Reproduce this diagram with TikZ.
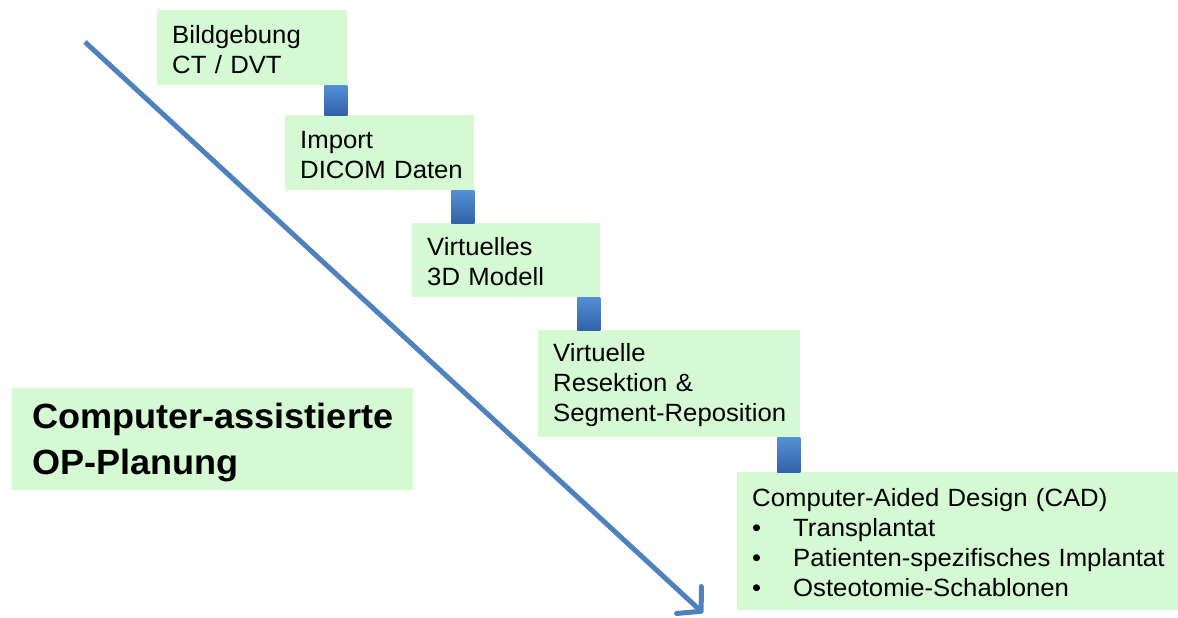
\documentclass[tikz,border=0pt]{standalone}
\usepackage{fontspec}
\setmainfont{Liberation Sans}[FakeStretch=1.03]
\usetikzlibrary{arrows.meta}

\definecolor{boxgreen}{RGB}{212,249,211}
\definecolor{flowblue}{RGB}{79,129,189}
\definecolor{linktop}{RGB}{84,143,212}
\definecolor{linkbottom}{RGB}{50,98,168}

\newcommand{\stepfont}{\fontsize{21.3}{25.6}\selectfont\exhyphenpenalty=10000\hyphenpenalty=10000}
\newcommand{\titlefont}{\fontsize{29.9}{39.3}\selectfont\bfseries\exhyphenpenalty=10000}
\newcommand{\itembullet}{\makebox[1.23cm][l]{\textbullet}}

\tikzstyle{stepbox} = [fill=boxgreen, anchor=north west, align=left, inner xsep=0.45cm, inner ysep=0pt, font=\stepfont, execute at begin node=\strut]
\tikzstyle{titlebox} = [fill=boxgreen, anchor=north west, align=left, inner xsep=0.6cm, inner ysep=0pt, font=\titlefont, execute at begin node=\strut]
\tikzstyle{link} = [top color=linktop, bottom color=linkbottom]
\tikzstyle{flow} = [draw=flowblue, line width=0.15cm, -{Straight Barb[length=0.5cm, width=1.1cm, round]}]

\begin{document}
\begin{tikzpicture}[x=0.03cm, y=-0.03cm]
      \useasboundingbox (0,0) rectangle (1178,617);
      %arrow
      \coordinate (start) at (85,42);
      \coordinate (tip) at (703,613);
      \draw[flow] (start) -- (tip);
      %nodes
      \foreach \name/\x/\y/\w/\h/\txt in {
        bild/157/10/190/75/{Bildgebung\\CT / DVT},
        import/285/115/189/75/{Import\\DICOM~Daten},
        modell/412/223/188/74/{Virtuelles\\3D~Modell},
        resek/538/330/262/107/{Virtuelle\\Resektion~\&\\Segment-Reposition},
        cad/737/472/441/138/{Computer-Aided Design~(CAD)\\\itembullet Transplantat\\\itembullet Patienten-spezifisches~Implantat\\\itembullet Osteotomie-Schablonen}}
      {
        \pgfmathsetmacro{\tw}{(\w-30)*0.03}
        \pgfmathsetmacro{\bh}{\h*0.03}
        \node[stepbox, text width=\tw cm, minimum height=\bh cm] (\name) at (\x,\y) {\txt};
      };
      \node[titlebox, text width=10.83cm, minimum height=3.06cm] (titel) at (12,388) {Computer-assistierte\\OP-Planung};
      %links
      \foreach \topnode/\botnode in {bild/import, import/modell, modell/resek, resek/cad}
      {
        \shade[link] ([xshift=-0.69cm]\topnode.south east) rectangle (\topnode.south east |- \botnode.north);
      };
\end{tikzpicture}
\end{document}
